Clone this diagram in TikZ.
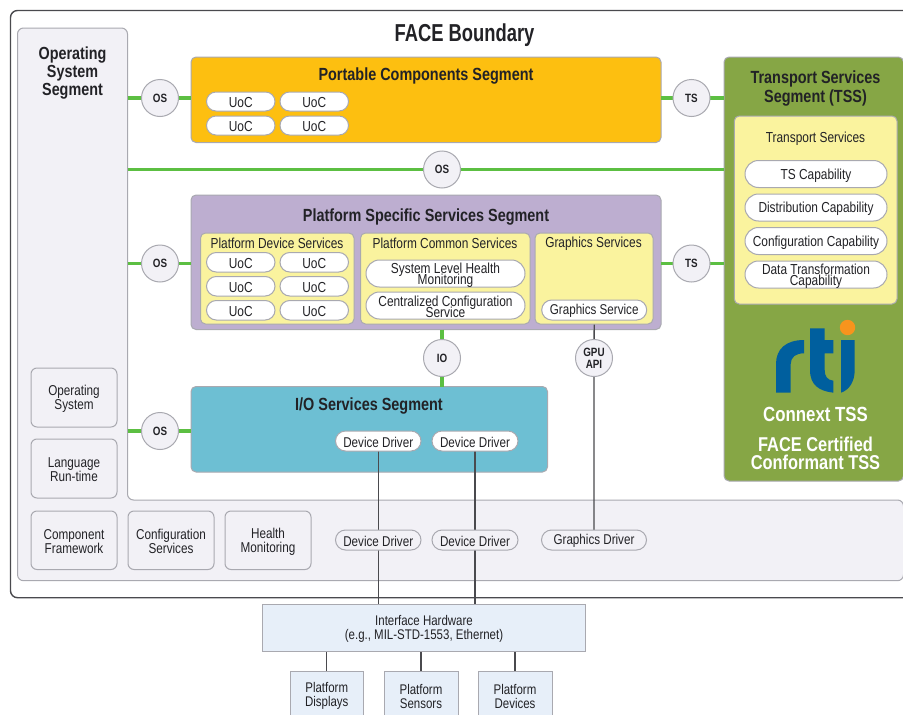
\documentclass[tikz,border=0pt]{standalone}
\usepackage{fontspec}
\setmainfont{Liberation Sans}[FakeStretch=0.82]
\newfontfamily\titlefont{Liberation Sans}[FakeStretch=0.75]
\usetikzlibrary{shapes.misc}
\definecolor{edgegray}{HTML}{A9A9B0}
\definecolor{osfill}{HTML}{F2F1F6}
\definecolor{wiregreen}{HTML}{5CBF42}
\definecolor{wiredark}{HTML}{4A4A4E}
\definecolor{portfill}{HTML}{FDBF10}
\definecolor{tssfill}{HTML}{86A645}
\definecolor{platfill}{HTML}{BDAED0}
\definecolor{ylwfill}{HTML}{FAF39E}
\definecolor{iofill}{HTML}{6DBFD3}
\definecolor{hwfill}{HTML}{E7EFF9}
\definecolor{rtiblue}{HTML}{005F9E}
\definecolor{rtiorange}{HTML}{F7941D}
\definecolor{inkdark}{HTML}{222226}
\pgfdeclarelayer{bgzero}
\pgfdeclarelayer{conn}
\pgfsetlayers{bgzero,conn,main}
\lineskiplimit=-20pt
% shape node #2, then its text in a node #2-t set 1.3px lower
\newcommand{\bx}[7][]{%
  \pgfmathsetmacro{\bxw}{#5-#3}\pgfmathsetmacro{\bxh}{#6-#4}%
  \pgfmathsetmacro{\bxcx}{(#5+#3)/2}\pgfmathsetmacro{\bxcy}{(#6+#4)/2}%
  \node[#1,minimum width=\bxw pt,minimum height=\bxh pt] (#2) at (\bxcx,\bxcy) {};%
  \node[#1,draw=none,fill=none,yshift=-1.3pt] (#2-t) at (\bxcx,\bxcy) {#7};}
\tikzset{
  x=1pt,y=-1pt,
  every node/.style={inner sep=0pt,outer sep=0pt,align=center,text=inkdark},
  seg/.style={draw=edgegray,line width=1pt,rounded corners=5pt,fill=#1},
  grayrect/.style={draw=edgegray,line width=1pt,rounded corners=6pt,fill=osfill,font=\fontsize{14.3}{14}\selectfont},
  pill/.style={rounded rectangle,draw=edgegray,line width=1pt,fill=#1,font=\fontsize{14.5}{11}\selectfont},
  pill/.default=white,
  ddpill/.style={pill=#1,font=\fontsize{14.2}{11}\selectfont},
  ddpill/.default=white,
  hwbox/.style={draw=edgegray,line width=1pt,fill=hwfill,font=\fontsize{14}{14}\selectfont},
  iface/.style={circle,draw=edgegray,line width=1pt,fill=osfill,minimum size=37pt,font=\bfseries\fontsize{12}{12}\selectfont},
  greenwire/.style={draw=wiregreen,line width=3.2pt},
  darkwire/.style={draw=wiredark,line width=1.3pt},
  segtitle/.style={font=\bfseries\fontsize{17.6}{18}\selectfont},
  subtitle/.style={font=\fontsize{14.5}{14}\selectfont},
}
\begin{document}
\begin{tikzpicture}
\lineskiplimit=-20pt
\useasboundingbox (0,0) rectangle (903,715);
\begin{pgfonlayer}{bgzero}
  \draw[draw=wiredark,line width=1.4pt,rounded corners=7pt,fill=white]
    (930,10.5) -- (10.5,10.5) -- (10.5,597.7) -- (930,597.7);
  \draw[draw=edgegray,line width=1pt,fill=osfill,rounded corners=6pt]
    (17.5,28) -- (127.5,28) -- (127.5,500) -- (903.5,500) -- (903.5,580.7) -- (17.5,580.7) -- cycle;
  \coordinate (osedge) at (127.5,300);
  \bx[seg=portfill]{portable}{191}{57}{661}{142.5}{}
  \bx[seg=tssfill]{tss}{724}{57}{903.5}{481}{}
  \bx[seg=platfill]{platform}{191}{195}{661}{329.5}{}
  \bx[seg=iofill]{ioseg}{191}{386.5}{547.5}{472}{}
\end{pgfonlayer}

% titles
\node[font=\titlefont\bfseries\fontsize{24.5}{24}\selectfont] (facetitle) at (464.5,35) {FACE Boundary};
\node[segtitle,font=\bfseries\fontsize{17.5}{18}\selectfont] (ostitle) at (72.5,73) {Operating\\System\\Segment};
\node[segtitle] (porttitle) at (426,76) {Portable Components Segment};
\node[segtitle,font=\bfseries\fontsize{17.6}{19}\selectfont] (tsstitle) at (815.5,88) {Transport Services\\Segment (TSS)};
\node[segtitle] (plattitle) at (426,216.5) {Platform Specific Services Segment};
\node[segtitle] (iotitle) at (369,406) {I/O Services Segment};

% yellow containers
\bx[seg=ylwfill]{tsbox}{734.3}{116}{897}{304}{}
\bx[seg=ylwfill]{pds}{200.5}{233}{354}{324}{}
\bx[seg=ylwfill]{pcs}{360.5}{233}{530}{324}{}
\bx[seg=ylwfill]{gfx}{535}{233}{653}{324}{}
\node[subtitle] (tstitle) at (815.5,138.5) {Transport Services};
\node[subtitle] (pdstitle) at (277,243.5) {Platform Device Services};
\node[subtitle] (pcstitle) at (445,243.5) {Platform Common Services};
\node[subtitle] (gfxtitle) at (593.5,243.5) {Graphics Services};

% UoC pills
\bx[pill]{u1}{206.5}{92}{275}{111}{UoC}
\bx[pill]{u2}{280}{92}{348.5}{111}{UoC}
\bx[pill]{u3}{206.5}{116}{275}{135}{UoC}
\bx[pill]{u4}{280}{116}{348.5}{135}{UoC}
\bx[pill]{v1}{206.5}{252.5}{275}{272}{UoC}
\bx[pill]{v2}{280}{252.5}{348.5}{272}{UoC}
\bx[pill]{v3}{206.5}{276.5}{275}{296}{UoC}
\bx[pill]{v4}{280}{276.5}{348.5}{296}{UoC}
\bx[pill]{v5}{206.5}{300.5}{275}{320}{UoC}
\bx[pill]{v6}{280}{300.5}{348.5}{320}{UoC}

\bx[pill]{slhm}{366}{260}{525}{287}{System Level Health\\Monitoring}
\bx[pill]{ccs}{366}{292}{525}{319}{Centralized Configuration\\Service}
\bx[ddpill]{gs}{541.7}{300}{646.7}{320}{Graphics Service}

\bx[pill]{tc1}{745}{160.5}{887}{187.5}{TS Capability}
\bx[pill]{tc2}{745}{194}{887}{221}{Distribution Capability}
\bx[pill]{tc3}{745}{227.5}{887}{254.5}{Configuration Capability}
\bx[pill]{tc4}{745}{261}{887}{288}{Data Transformation\\Capability}

\bx[ddpill]{dd1}{335.5}{431}{421}{451}{Device Driver}
\bx[ddpill]{dd2}{432}{431}{518}{451}{Device Driver}
\bx[ddpill=osfill]{dd3}{335.5}{530}{421}{550}{Device Driver}
\bx[ddpill=osfill]{dd4}{432}{530}{518}{550}{Device Driver}
\bx[ddpill=osfill]{gd}{541.5}{530}{646.5}{550}{Graphics Driver}

% OS inner boxes
\bx[grayrect]{osys}{31}{368}{117}{427}{Operating\\System}
\bx[grayrect]{lang}{31}{439}{117}{498}{Language\\Run-time}
\bx[grayrect]{comp}{31}{511}{117}{569.5}{Component\\Framework}
\bx[grayrect]{conf}{128}{511}{214}{569.5}{Configuration\\Services}
\bx[grayrect]{hlth}{225}{511}{311}{569.5}{Health\\Monitoring}

% interface circles
\node[iface] (os1) at (160,98) {OS};
\node[iface] (ts1) at (691.5,98) {TS};
\node[iface] (os2) at (442,169.5) {OS};
\node[iface] (os3) at (160,263.5) {OS};
\node[iface] (ts2) at (691.5,263.5) {TS};
\node[iface] (io) at (442,358) {IO};
\node[iface] (gpu) at (594,358) {GPU\\API};
\node[iface] (os4) at (160,431) {OS};

% hardware
\bx[hwbox]{hw}{262.5}{604.5}{585.5}{651}{Interface Hardware\\(e.g., MIL-STD-1553, Ethernet)}
\bx[hwbox]{pdisp}{290}{671}{363.5}{719}{Platform\\Displays}
\bx[hwbox]{psens}{384}{671}{458}{719}{Platform\\Sensors}
\bx[hwbox]{pdev}{478}{671}{552}{719}{Platform\\Devices}

% logo
\fill[rtiblue] (776,392.7) -- (790.7,392.7) -- (790.7,364) .. controls (790.7,357) and (796,353.3) .. (804,353.3) -- (804,340) .. controls (786,340) and (776,349) .. (776,364) -- cycle;
\fill[rtiblue] (810,328.3) -- (824.7,328.3) -- (824.7,340) -- (833.3,340) -- (833.3,353.3) -- (824.7,353.3) -- (824.7,370) .. controls (824.7,376) and (827,380) .. (833.3,380.7) -- (833.3,392.7) .. controls (819,391) and (810,385) .. (810,370) -- cycle;
\fill[rtiblue] (841,340) -- (854.7,340) -- (854.7,370) .. controls (854.7,382) and (849,390) .. (841,392.7) -- cycle;
\fill[rtiorange] (847.5,327.5) circle[radius=7.7];
\node[text=white,font=\bfseries\fontsize{20.5}{18}\selectfont] (connext) at (815.5,414) {Connext TSS};
\node[text=white,font=\bfseries\fontsize{20}{18}\selectfont] (cert) at (815.5,453) {FACE Certified\\Conformant TSS};

% connectors
\begin{pgfonlayer}{conn}
  \draw[greenwire] (os1 -| osedge) -- (os1) -- (os1 -| portable.west);
  \draw[greenwire] (ts1 -| portable.east) -- (ts1) -- (ts1 -| tss.west);
  \draw[greenwire] (os2 -| osedge) -- (os2) -- (os2 -| tss.west);
  \draw[greenwire] (os3 -| osedge) -- (os3) -- (os3 -| platform.west);
  \draw[greenwire] (ts2 -| platform.east) -- (ts2) -- (ts2 -| tss.west);
  \draw[greenwire] (os4 -| osedge) -- (os4) -- (os4 -| ioseg.west);
  \draw[greenwire] (io |- platform.south) -- (io) -- (io |- ioseg.north);
  \draw[darkwire] (dd1.south) -- (dd3) -- (dd1.south |- hw.north);
  \draw[darkwire] (dd2.south) -- (dd4) -- (dd2.south |- hw.north);
  \draw[darkwire] (gs.south) -- (gpu) -- (gd.north);
  \draw[darkwire] (pdisp.north) -- (pdisp.north |- hw.south);
  \draw[darkwire] (psens.north) -- (psens.north |- hw.south);
  \draw[darkwire] (pdev.north) -- (pdev.north |- hw.south);
\end{pgfonlayer}
\end{tikzpicture}
\end{document}
